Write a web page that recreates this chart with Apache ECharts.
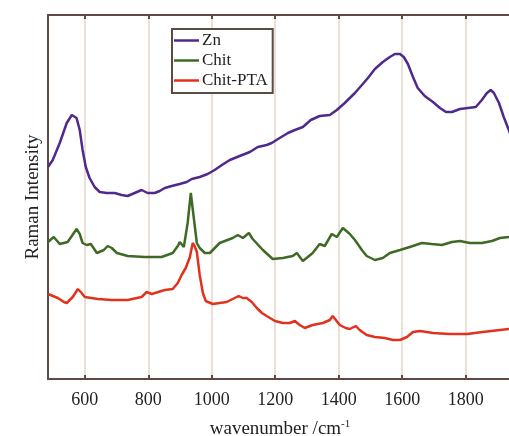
<!DOCTYPE html>
<html>
<head>
<meta charset="utf-8">
<script src="https://cdn.jsdelivr.net/npm/echarts@6/dist/echarts.min.js"></script>
<style>
  html, body { margin: 0; padding: 0; background: #fff; }
  #chart { width: 509px; height: 436px; }
</style>
</head>
<body>
<div id="chart"></div>
<script>
// wavenumber (cm-1), relative intensity (arbitrary units)
const seriesNames = ['Zn', 'Chit', 'Chit-PTA'];
const xTicks = [600, 800, 1000, 1200, 1400, 1600, 1800];

const znData = [
  [484, 212], [499, 219], [521, 236], [543, 256], [559, 264], [565, 266], [574, 261],
  [584, 249], [593, 229], [603, 212], [615, 201], [631, 192], [647, 187], [669, 186],
  [694, 186], [716, 184], [735, 183], [757, 186], [779, 189], [798, 186], [820, 186],
  [836, 188], [852, 191], [874, 193], [899, 195], [921, 197], [937, 200], [962, 202],
  [987, 205], [1009, 209], [1032, 214], [1057, 219], [1088, 223], [1120, 227], [1145, 232],
  [1173, 234], [1189, 236], [1214, 241], [1240, 246], [1262, 249], [1287, 252], [1312, 259],
  [1340, 263], [1372, 264], [1394, 269], [1419, 276], [1451, 286], [1473, 294], [1492, 301],
  [1514, 310], [1539, 317], [1561, 322], [1577, 325], [1593, 325], [1605, 322], [1618, 315],
  [1634, 302], [1649, 291], [1671, 283], [1697, 277], [1719, 271], [1738, 267], [1757, 267],
  [1782, 270], [1807, 271], [1832, 272], [1851, 279], [1867, 286], [1879, 289], [1889, 286],
  [1905, 276], [1920, 262], [1936, 249], [1946, 240]
];

const chitData = [
  [484, 137], [502, 142], [521, 135], [546, 137], [559, 143], [574, 150], [584, 145],
  [593, 136], [606, 134], [619, 135], [638, 126], [660, 129], [672, 133], [685, 131],
  [701, 126], [735, 123], [789, 122], [842, 122], [877, 126], [893, 133], [899, 137],
  [912, 132], [924, 156], [934, 186], [943, 162], [953, 136], [962, 131], [978, 126],
  [994, 126], [1025, 136], [1066, 141], [1082, 144], [1098, 141], [1117, 146], [1129, 140],
  [1161, 129], [1192, 120], [1224, 121], [1255, 123], [1268, 126], [1287, 118], [1318, 126],
  [1340, 135], [1356, 133], [1378, 145], [1394, 142], [1413, 151], [1435, 145], [1451, 139],
  [1473, 129], [1488, 123], [1514, 119], [1539, 121], [1561, 126], [1593, 129], [1624, 132],
  [1662, 136], [1693, 135], [1725, 134], [1757, 137], [1782, 138], [1813, 136], [1851, 136],
  [1883, 138], [1908, 141], [1936, 142], [1946, 143]
];

const chitPtaData = [
  [484, 85], [515, 81], [534, 77], [543, 76], [562, 82], [578, 90], [590, 86],
  [600, 82], [641, 80], [685, 79], [735, 79], [779, 82], [795, 87], [811, 85],
  [852, 89], [877, 90], [893, 96], [905, 104], [918, 111], [931, 122], [940, 136],
  [946, 133], [953, 127], [962, 104], [972, 86], [981, 78], [1003, 75], [1025, 76],
  [1047, 77], [1066, 80], [1085, 83], [1098, 81], [1110, 81], [1126, 77], [1142, 71],
  [1158, 66], [1173, 63], [1199, 58], [1224, 56], [1246, 56], [1262, 58], [1277, 54],
  [1293, 51], [1318, 54], [1350, 56], [1372, 59], [1381, 63], [1391, 59], [1403, 54],
  [1422, 51], [1435, 50], [1454, 53], [1466, 49], [1488, 44], [1514, 42], [1545, 41],
  [1571, 39], [1593, 39], [1615, 42], [1634, 47], [1656, 48], [1697, 46], [1750, 45],
  [1804, 45], [1854, 47], [1908, 49], [1936, 50], [1946, 50]
];

const colors = ['#4f2a8a', '#3f6a25', '#e0321c'];
const axisColor = '#5b4b42';
const font = 'Liberation Serif';

const chart = echarts.init(document.getElementById('chart'));

const baseX = {
  type: 'value',
  min: 484,
  max: 1946,
  axisLine: { show: true, lineStyle: { color: axisColor, width: 2 } },
  axisTick: { show: true, inside: true, length: 4, customValues: xTicks, lineStyle: { color: axisColor, width: 2 } }
};

chart.setOption({
  animation: false,
  color: colors,
  grid: { left: 48, right: -3, top: 15, bottom: 57, outerBoundsMode: 'none' },
  legend: {
    data: seriesNames,
    orient: 'vertical',
    left: 172,
    top: 29,
    padding: [3, 5, 4, 2],
    itemGap: 3,
    itemWidth: 25,
    itemHeight: 2.5,
    icon: 'rect',
    borderColor: axisColor,
    borderWidth: 2,
    backgroundColor: '#fff',
    textStyle: { fontFamily: font, fontSize: 17, color: '#222', padding: [0, 0, 0, -2] }
  },
  xAxis: [
    Object.assign({}, baseX, {
      position: 'bottom',
      name: '{a|wavenumber /cm}{s|-1}',
      nameLocation: 'middle',
      nameGap: 40,
      nameTextStyle: {
        rich: {
          a: { fontFamily: font, fontSize: 19, color: '#222', lineHeight: 20 },
          s: { fontFamily: font, fontSize: 11, color: '#222', verticalAlign: 'top', lineHeight: 11 }
        }
      },
      axisLabel: {
        customValues: xTicks,
        margin: 12,
        fontFamily: font,
        fontSize: 18,
        color: '#222',
        formatter: (v) => String(v)
      },
      splitLine: { show: true, lineStyle: { color: '#ecdfd5', width: 2 } }
    }),
    Object.assign({}, baseX, {
      position: 'top',
      axisLabel: { show: false },
      splitLine: { show: false }
    })
  ],
  yAxis: {
    type: 'value',
    min: 0,
    max: 364,
    name: 'Raman Intensity',
    nameLocation: 'middle',
    nameGap: 5,
    nameTextStyle: { fontFamily: font, fontSize: 19, color: '#222' },
    axisLine: { show: true, lineStyle: { color: axisColor, width: 2 } },
    axisTick: { show: false },
    axisLabel: { show: false },
    splitLine: { show: false }
  },
  series: [
    { name: seriesNames[0], type: 'line', data: znData, showSymbol: false, symbol: 'none', lineStyle: { width: 2.5 } },
    { name: seriesNames[1], type: 'line', data: chitData, showSymbol: false, symbol: 'none', lineStyle: { width: 2.5 } },
    { name: seriesNames[2], type: 'line', data: chitPtaData, showSymbol: false, symbol: 'none', lineStyle: { width: 2.5 } }
  ]
});
</script>
</body>
</html>
